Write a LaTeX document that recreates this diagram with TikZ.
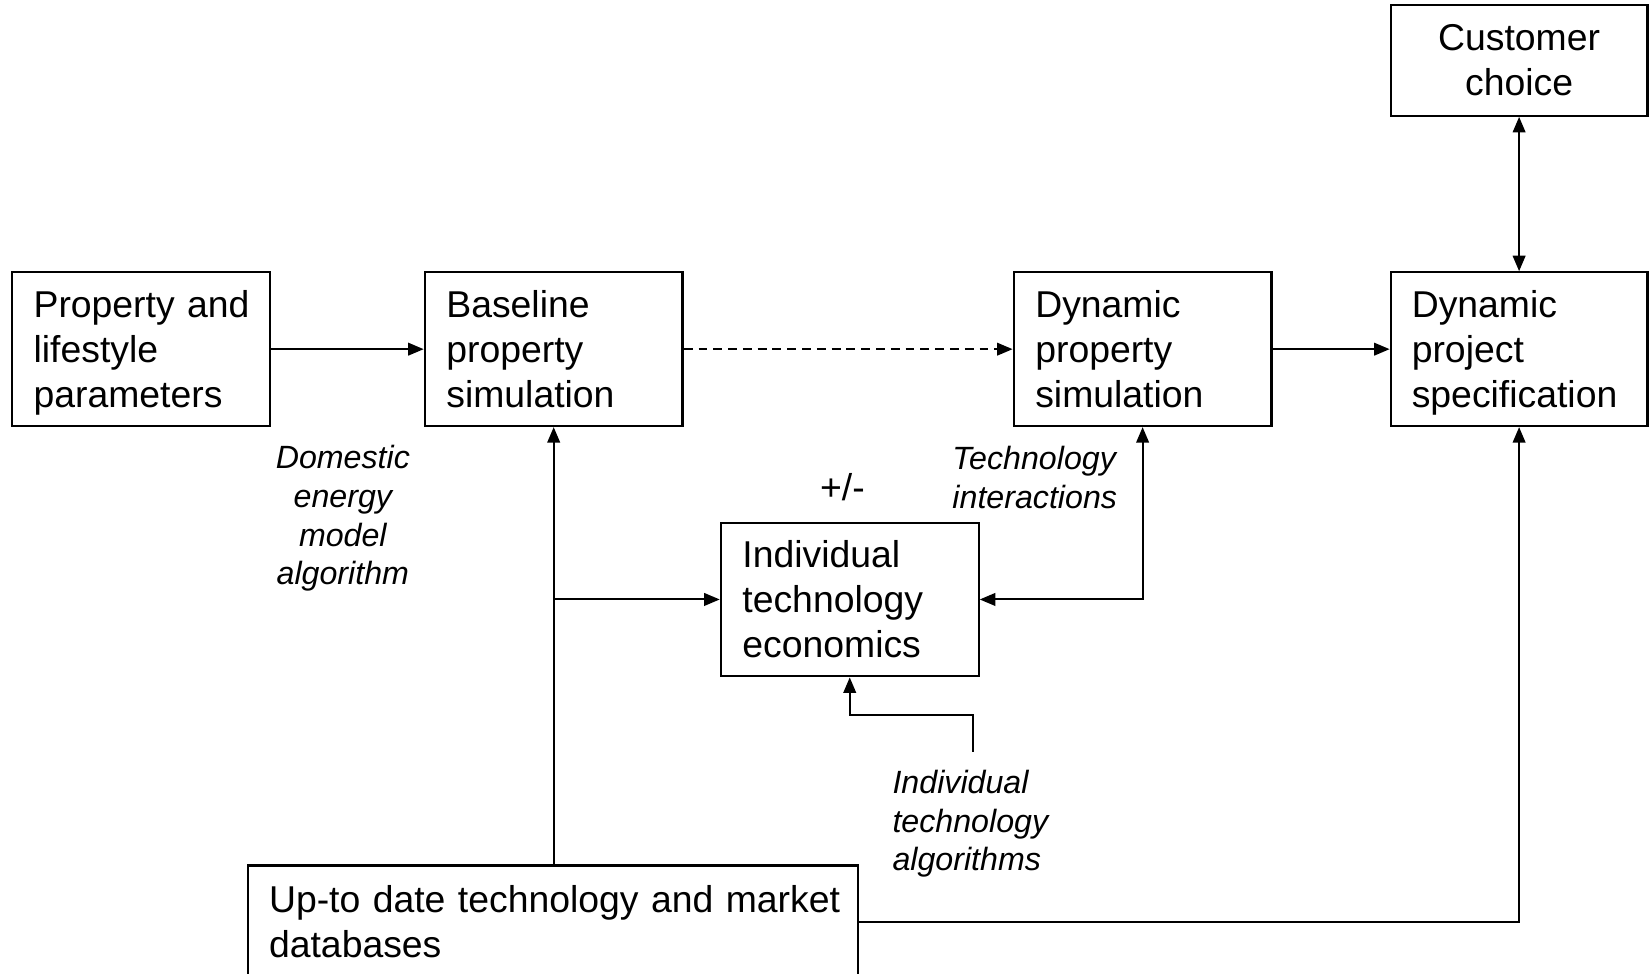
\documentclass[tikz,border=0pt]{standalone}
\usepackage{fontspec}
\setmainfont{Liberation Sans}
\usetikzlibrary{arrows.meta,calc}

\tikzset{
  x=0.01cm, y=-0.01cm,
  boxfont/.style={font=\fontsize{10.1}{12.2}\selectfont},
  notefont/.style={font=\itshape\fontsize{8.7}{10.45}\selectfont},
  block/.style={draw, line width=0.6pt, boxfont, align=left,
    inner xsep=0.2cm, inner ysep=0pt, text width=2.04cm,
    minimum width=2.45cm, minimum height=1.46cm},
  note/.style={notefont, inner sep=0pt},
  link/.style={line width=0.55pt, -{Triangle[length=4.2pt,width=3.4pt]}},
  link2/.style={line width=0.55pt, {Triangle[length=4.2pt,width=3.4pt]}-{Triangle[length=4.2pt,width=3.4pt]}},
}
% last line without descender depth, so all blocks sit alike
\newcommand{\nodepth}[1]{\raisebox{0pt}[\height][0pt]{#1}}

\begin{document}
\begin{tikzpicture}
\useasboundingbox (0,0) rectangle (1568,926);

% main boxes
\node[block] (prop) at (134,332) {\mbox{Property and}\\lifestyle\\\nodepth{parameters}};
\node[block] (base) at (526.5,332) {Baseline\\property\\simulation};
\node[block] (dyn) at (1086.5,332) {Dynamic\\property\\simulation};
\node[block, minimum width=2.43cm] (spec) at (1444.5,332) {Dynamic\\project\\\nodepth{specification}};
\node[block, align=center, minimum width=2.43cm, minimum height=1.05cm] (cust) at (1444.5,57.5) {Customer\\choice};
\node[block] (econ) at (808,570) {Individual\\technology\\economics};
\node[block, text width=5.4cm, minimum height=1.07cm] (db) at (526,876.5) {\mbox{Up-to date technology and market}\\databases};

% free end of the algorithms connector
\coordinate (alg) at (925,715);
\coordinate (algbend) at (925,680);

% connectors
\draw[link] (prop) -- (base);
\draw[link, dash pattern=on 2.4pt off 1.6pt] (base) -- (dyn);
\draw[link] (dyn) -- (spec);
\draw[link2] (cust) -- (spec);
\draw[link] (db.north -| base.south) -- (base.south);
\draw[link] (base.south |- econ.west) -- (econ.west);
\draw[link2] (econ.east) -| (dyn.south);
\draw[link] (alg) -- (algbend) -| (econ.south);
\draw[link] (db.east) -| (spec.south);

% labels
\node[note, align=center] (dem) at (326,493) {Domestic\\energy\\model\\algorithm};
\node[inner sep=0pt, boxfont] (pm) at (801,463) {+/-};
\node[note, align=left, anchor=west] (ti) at (905,454) {Technology\\interactions};
\node[note, align=left, anchor=west] (ita) at (848,783.5) {Individual\\technology\\algorithms};
\end{tikzpicture}
\end{document}
